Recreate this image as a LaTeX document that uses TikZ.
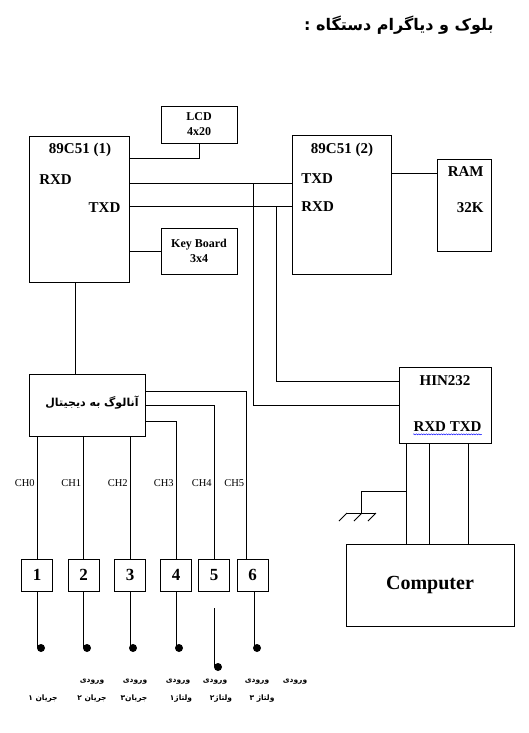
\documentclass[tikz,border=0pt]{standalone}
\usepackage{fontspec}
\setmainfont{Liberation Serif}
\newfontfamily\farsi[Script=Arabic]{DejaVu Sans}
\TeXXeTstate=1
\usetikzlibrary{decorations.pathmorphing}

\begin{document}
\begin{tikzpicture}[x=1pt,y=-1pt,line width=0.8pt,
	box/.style={draw,inner sep=0pt},
	pin/.style={font=\fontsize{15}{15}\selectfont\bfseries,inner sep=0pt},
	chan/.style={draw,inner sep=0pt,minimum width=31pt,minimum height=32pt,font=\fontsize{17}{17}\selectfont\bfseries},
	chlab/.style={font=\fontsize{10.5}{10.5}\selectfont,inner sep=0pt,anchor=east},
	fa/.style={font=\fontsize{7.5}{7.5}\selectfont\farsi\bfseries,inner sep=0pt},
	probe/.style={circle,fill,inner sep=0pt,minimum size=8pt}]
	\useasboundingbox (0,0) rectangle (529,733);
	\node[fa,font=\fontsize{16}{16}\selectfont\farsi\bfseries,anchor=east] (title) at (494,25) {\beginR بلوک و دیاگرام دستگاه :\endR};

	\node[box,minimum width=100pt,minimum height=146pt] (mcuA) at (79,209) {};
	\node[pin] (nameA) at (80,150) {89C51 (1)};
	\node[pin] (rxdA) at (55.5,180) {RXD};
	\node[pin] (txdA) at (104.5,208) {TXD};
	\node[box,minimum width=76pt,minimum height=37pt,align=center,font=\fontsize{12}{15}\selectfont\bfseries] (lcd) at (199,124.5) {LCD\\4x20};
	\node[box,minimum width=76pt,minimum height=46pt,align=center,font=\fontsize{12}{15}\selectfont\bfseries] (kbd) at (199,251) {Key Board\\3x4};

	\node[box,minimum width=99pt,minimum height=139pt] (mcuB) at (341.5,204.5) {};
	\node[pin] (nameB) at (342,150) {89C51 (2)};
	\node[pin,anchor=west] (txdB) at (301,179) {TXD};
	\node[pin,anchor=west] (rxdB) at (301,207) {RXD};
	\node[box,minimum width=54pt,minimum height=92pt] (ram) at (464,205) {};
	\node[pin,anchor=east] (ramA) at (484,172) {RAM};
	\node[pin,anchor=east] (ramB) at (484,208) {32K};

	\node[box,minimum width=116pt,minimum height=62pt] (adc) at (87,405) {};
	\node[fa,font=\fontsize{11}{11}\selectfont\farsi\bfseries] (adcName) at (92,403) {\beginR آنالوگ به دیجیتال\endR};

	\node[box,minimum width=92pt,minimum height=76pt] (hin) at (445,405) {};
	\node[pin] (hinName) at (445,381) {HIN232};
	\node[pin] (hinPins) at (447.5,427) {RXD TXD};
	\node[box,minimum width=168pt,minimum height=82pt,font=\fontsize{20}{20}\selectfont\bfseries] (pc) at (430,585) {Computer};

	\node[chan] (ch1) at (37,575) {1};
	\node[chan] (ch2) at (83.5,575) {2};
	\node[chan] (ch3) at (130,575) {3};
	\node[chan] (ch4) at (176,575) {4};
	\node[chan] (ch5) at (214,575) {5};
	\node[chan] (ch6) at (252.5,575) {6};
	\node[probe] (d1) at (41,648) {};
	\node[probe] (d2) at (87,648) {};
	\node[probe] (d3) at (133,648) {};
	\node[probe] (d4) at (179,648) {};
	\node[probe] (d5) at (218,667) {};
	\node[probe] (d6) at (257,648) {};

	\coordinate (busA) at (253,183);
	\coordinate (busB) at (276,206);
	\coordinate (chrow) at (0,483);
	\coordinate (gnd) at (361,513);

	\draw ([yshift=-23pt]mcuA.north east) -| (lcd.south);
	\draw (kbd.west) -- (kbd.west -| mcuA.east);
	\draw (mcuA.east |- busA) -- (mcuB.west |- busA);
	\draw (mcuA.east |- busB) -- (mcuB.west |- busB);
	\draw (busA) |- (hin.west);
	\draw (busB) |- ([yshift=-15pt]hin.north west);
	\draw ([yshift=-15pt]ram.north west) -- ([yshift=-15pt]ram.north west -| mcuB.east);
	\draw ([xshift=-4pt]mcuA.south) -- ([xshift=-4pt]mcuA.south |- adc.north);

	\draw ([yshift=14pt]adc.east) -| ([xshift=-6pt]ch6.north);
	\draw (adc.east) -| (ch5.north);
	\draw ([yshift=-16pt]adc.east) -| (ch4.north);
	\draw (ch1.north |- adc.south) -- (ch1.north);
	\draw (ch2.north |- adc.south) -- (ch2.north);
	\draw (ch3.north |- adc.south) -- (ch3.north);
	\node[chlab] (lab0) at ([xshift=-2pt]ch1.north |- chrow) {CH0};
	\node[chlab] (lab1) at ([xshift=-2pt]ch2.north |- chrow) {CH1};
	\node[chlab] (lab2) at ([xshift=-2pt]ch3.north |- chrow) {CH2};
	\node[chlab] (lab3) at ([xshift=-2pt]ch4.north |- chrow) {CH3};
	\node[chlab] (lab4) at ([xshift=-2pt]ch5.north |- chrow) {CH4};
	\node[chlab] (lab5) at ([xshift=-8pt]ch6.north |- chrow) {CH5};

	\draw (ch1.south) -- (ch1.south |- d1.center);
	\draw (ch2.south) -- (ch2.south |- d2.center);
	\draw (ch3.south) -- (ch3.south |- d3.center);
	\draw (ch4.south) -- (ch4.south |- d4.center);
	\draw ([yshift=-17pt]ch5.south) -- (ch5.south |- d5.center);
	\draw ([xshift=1.5pt]ch6.south) -- ([xshift=1.5pt]ch6.south |- d6.center);

	\node[fa] (in1) at (92,682) {\beginR ورودی\endR};
	\node[fa] (in2) at (135,682) {\beginR ورودی\endR};
	\node[fa] (in3) at (178,682) {\beginR ورودی\endR};
	\node[fa] (in4) at (215,682) {\beginR ورودی\endR};
	\node[fa] (in5) at (257,682) {\beginR ورودی\endR};
	\node[fa] (in6) at (295,682) {\beginR ورودی\endR};
	\node[fa] (sig1) at (43,699) {\beginR جریان ۱\endR};
	\node[fa] (sig2) at (92,699) {\beginR جریان ۲\endR};
	\node[fa] (sig3) at (134,699) {\beginR جریان۳\endR};
	\node[fa] (sig4) at (181,699) {\beginR ولتاژ۱\endR};
	\node[fa] (sig5) at (221,699) {\beginR ولتاژ۲\endR};
	\node[fa] (sig6) at (262,699) {\beginR ولتاژ ۳\endR};

	\draw ([xshift=8pt]hin.south west) -- ([xshift=8pt]hin.south west |- pc.north);
	\draw ([xshift=31pt]hin.south west) -- ([xshift=31pt]hin.south west |- pc.north);
	\draw ([xshift=70pt]hin.south west) -- ([xshift=70pt]hin.south west |- pc.north);
	\draw (gnd) |- ([xshift=8pt,yshift=-48pt]hin.south west);
	\draw ([xshift=-15pt]gnd) -- ([xshift=15pt]gnd);
	\draw ([xshift=-14pt]gnd) -- ([xshift=-22pt,yshift=-8pt]gnd);
	\draw ([xshift=1pt]gnd) -- ([xshift=-7pt,yshift=-8pt]gnd);
	\draw ([xshift=15pt]gnd) -- ([xshift=7pt,yshift=-8pt]gnd);
	\draw[blue,line width=0.4pt,decorate,decoration={snake,amplitude=0.6pt,segment length=2.5pt}] ([yshift=-2pt]hinPins.south west) -- ([yshift=-2pt]hinPins.south east);
\end{tikzpicture}
\end{document}
